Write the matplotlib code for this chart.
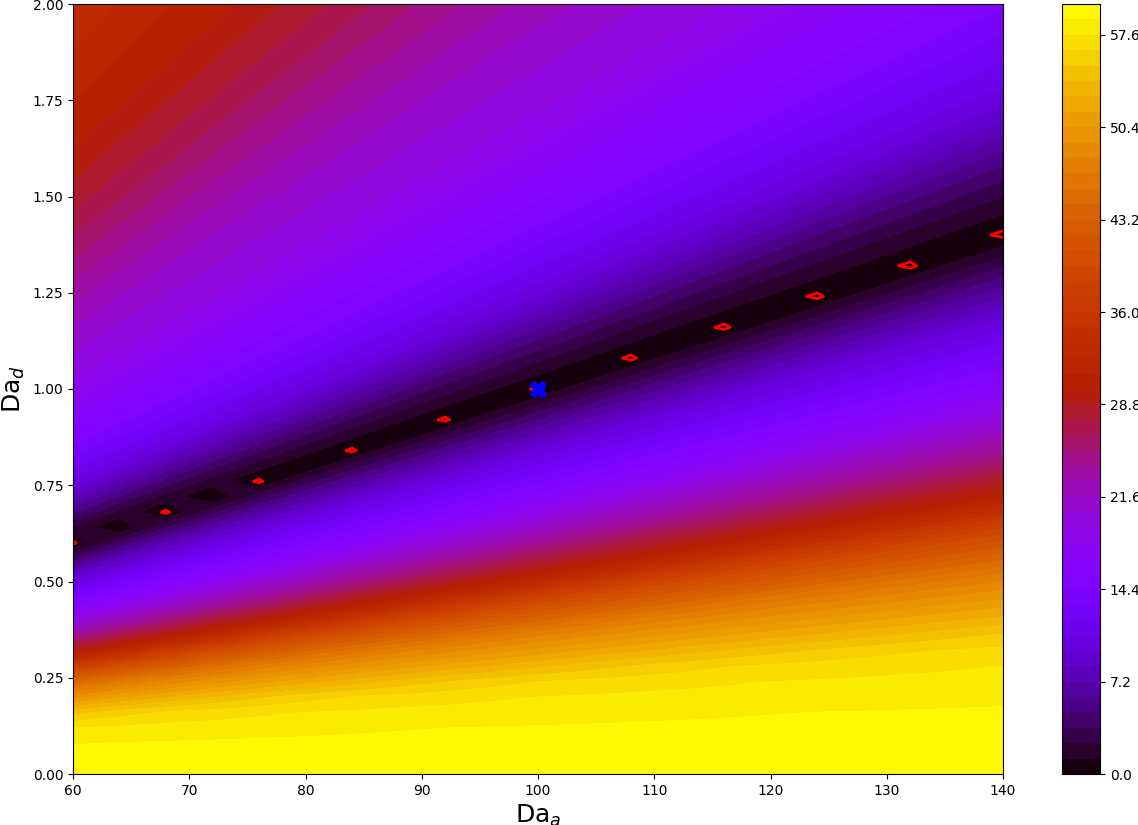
"""Misfit map over the two Damkoehler numbers (Da_a, Da_d) with the valley of equal fits."""

import numpy as np
import matplotlib
matplotlib.use("Agg")
import matplotlib.pyplot as plt

# --- data -----------------------------------------------------------------------
# The field only depends on the ratio Da_d / Da_a; misfit read along that ratio.
ratio_pts = [0.0, 0.0013, 0.0020, 0.0024, 0.0026, 0.0037, 0.0046, 0.0051, 0.0055,
             0.0060, 0.0066, 0.0072, 0.0076, 0.0084, 0.0091, 0.0096, 0.0100, 0.0106,
             0.0113, 0.0120, 0.0128, 0.0145, 0.0170, 0.0194, 0.0238, 0.0270, 0.0334]
misfit_pts = [59.9, 58.8, 57.6, 56.4, 55.2, 47.0, 38.0, 31.0, 28.0,
              24.0, 20.0, 16.0, 14.0, 10.0, 5.5, 2.3, 0.0, 1.9,
              4.8, 8.0, 11.0, 15.0, 19.0, 21.5, 27.0, 30.0, 33.5]

da_a = np.arange(60, 141, 4)            # sampled Da_a values
da_d = np.arange(0, 2.0001, 0.04)       # sampled Da_d values
true_point = (100, 1.0)                 # reference parameters (blue X)
levels = np.linspace(0, 60, 51)

# --- field ---------------------------------------------------------------------
X, Y = np.meshgrid(da_a, da_d)
Z = np.interp(Y / X, ratio_pts, misfit_pts)

fig = plt.figure(figsize=(11.38, 8.25), dpi=100)
ax = fig.add_axes([73 / 1138, 51 / 825, 930 / 1138, 770 / 825])
cax = fig.add_axes([1062 / 1138, 51 / 825, 38 / 1138, 770 / 825])

cf = ax.contourf(X, Y, Z, levels=levels, cmap="gnuplot")
# red loops around the exact zeros (every other sampled column)
ax.contour(X[:, ::2], Y[:, ::2], Z[:, ::2], levels=[0.25], colors="red", linewidths=2.0)
ax.plot(*true_point, marker="X", color="blue", markersize=12, linestyle="none")

ax.set_xlim(60, 140)
ax.set_ylim(0, 2)
ax.set_xlabel("Da$_a$", fontsize=18)
ax.set_ylabel("Da$_d$", fontsize=18)

fig.colorbar(cf, cax=cax)
fig.savefig("out.png", dpi=100)
plt.close(fig)
